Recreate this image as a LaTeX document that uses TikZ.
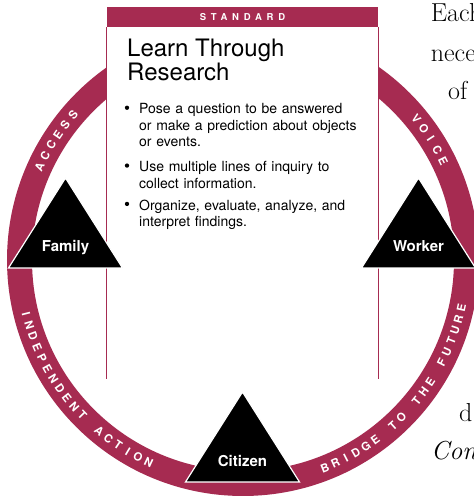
\documentclass[tikz,border=0pt]{standalone}
\usepackage{fontspec}
\usepackage{tikz}
\usetikzlibrary{positioning,calc}
\newfontfamily\heros{TeX Gyre Heros}
\definecolor{berry}{HTML}{A62B51}

% letters spread round the ring, one node each: start angle, step, turn, letters
\newcommand\ringword[4]{%
  \foreach \ch [count=\k from 0] in {#4} {
    \pgfmathsetmacro\ang{#1+\k*(#2)}
    \pgfmathsetmacro\turn{\ang+(#3)}
    \node[ringchar, rotate=\turn] at ($(hub)+(\ang:223.5)$) {\ch};
  }%
}

\begin{document}
\begin{tikzpicture}[
    x=1pt, y=1pt,
    ringchar/.style={text=white, font=\heros\bfseries\fontsize{11.5}{12}\selectfont, inner sep=0},
    tri/.style={fill=black, draw=white, line width=1.2pt},
    tlabel/.style={text=white, font=\heros\bfseries\fontsize{15}{16}\selectfont, anchor=base, inner sep=0},
    item/.style={text width=235pt, align=left, inner sep=0, font=\heros\fontsize{14}{16.5}\selectfont},
    dot/.style={circle, fill=black, inner sep=0, minimum size=4.3pt},
    side/.style={draw=berry, line width=1pt},
    prose/.style={anchor=base west, inner sep=0, font=\fontsize{26}{30}\selectfont}
]
    \useasboundingbox (0,0) rectangle (474,496);
    \coordinate (hub) at (243,236);

    % ring and its words
    \draw[berry, line width=25pt] (hub) circle[radius=223.5];
    \ringword{155.5}{-3.2}{-90}{A,C,C,E,S,S}
    \ringword{39.2}{-3.2}{-90}{V,O,I,C,E}
    \ringword{194}{3}{90}{I,N,D,E,P,E,N,D,E,N,T,{},A,C,T,I,O,N}
    \ringword{291.5}{2.95}{90}{B,R,I,D,G,E,{},T,O,{},T,H,E,{},F,U,T,U,R,E}

    % standard card
    \node[fill=berry, minimum width=271pt, minimum height=20pt, inner sep=0, text=white,
          font=\heros\bfseries\fontsize{9.5}{10}\selectfont\addfontfeature{LetterSpace=50}] (head) at (242.5,479) {STANDARD};
    \node[fill=white, minimum width=271pt, minimum height=351pt, inner sep=0, below=0pt of head] (card) {};
    \draw[side] (card.north west) -- (card.south west);
    \draw[side] (card.north east) -- (card.south east);

    \node[anchor=north west, inner sep=0, align=left, font=\heros\fontsize{24}{24}\selectfont] (title) at (127,457) {Learn Through\\Research};
    \node[item, below=22pt of title.south west, anchor=north west, xshift=12pt] (pose) {Pose a question to be answered\\or make a prediction about objects\\or events.};
    \node[item, below=14pt of pose.south west, anchor=north west] (inquiry) {Use multiple lines of inquiry to\\collect information.};
    \node[item, below=11pt of inquiry.south west, anchor=north west] (findings) {Organize, evaluate, analyze, and\\interpret findings.};
    \foreach \itm in {pose, inquiry, findings}
        \node[dot] (\itm-dot) at ($(\itm.north west)+(-12,-4.5)$) {};

    % the three roles
    \foreach \x/\y/\role in {65.5/228/Family, 418.5/228/Worker, 242.5/14/Citizen} {
        \filldraw[tri] (\x-57,\y) -- (\x,\y+90) -- (\x+57,\y) -- cycle;
        \node[tlabel] (\role) at (\x,\y+16) {\role};
    }

    % running text beside the figure
    \node[prose] (each) at (430.7,474) {Each};
    \node[prose] (nece) at (430.7,434.3) {nece};
    \node[prose] (of) at (448,396) {of};
    \node[prose] (d) at (459,74.3) {d};
    \node[prose] (con) at (431,36) {\itshape Con};
\end{tikzpicture}
\end{document}
